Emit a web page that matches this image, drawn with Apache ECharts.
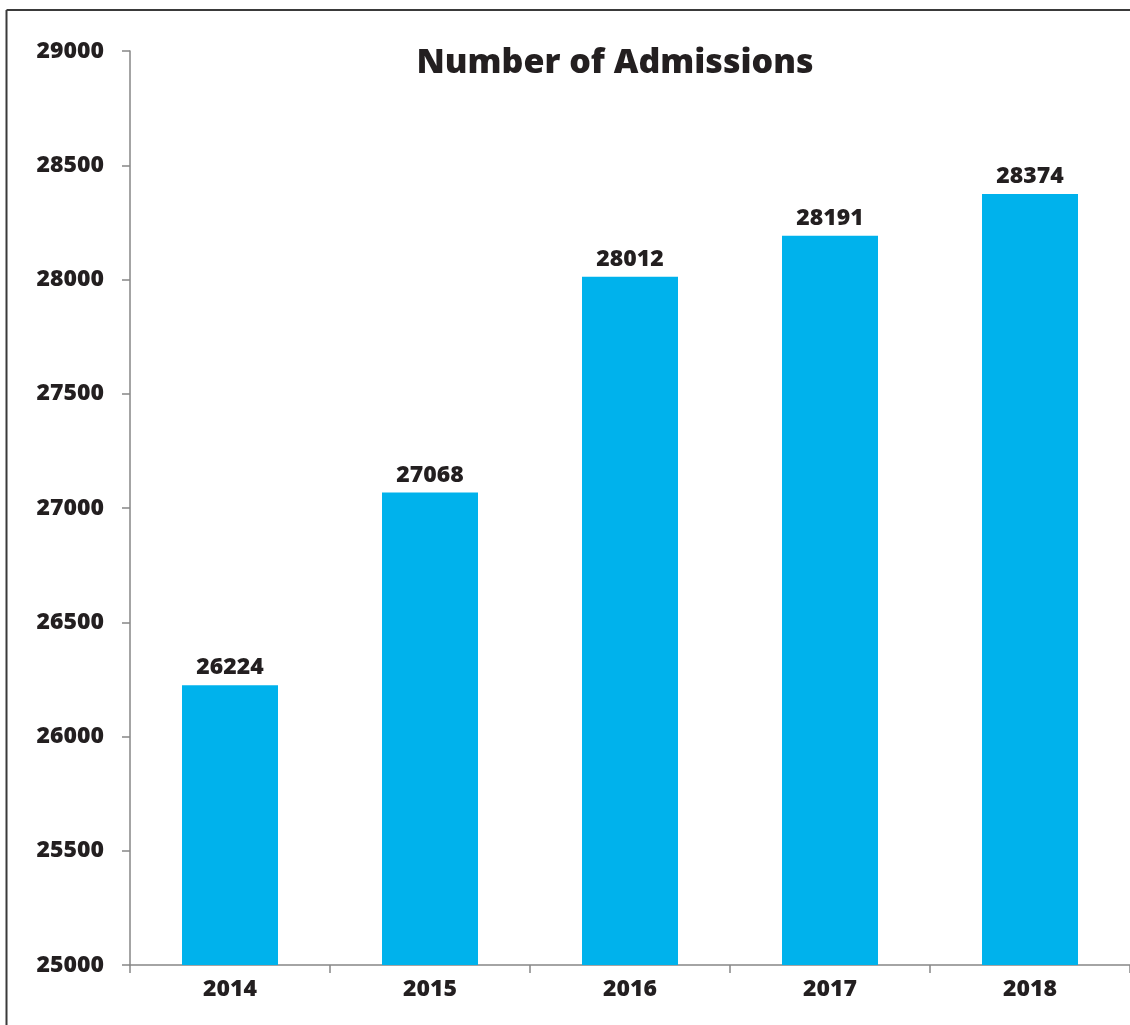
<!DOCTYPE html>
<html>
<head>
<meta charset="utf-8">
<script src="https://cdn.jsdelivr.net/npm/echarts@6/dist/echarts.min.js"></script>
<style>
  html, body { margin: 0; padding: 0; background: #ffffff; }
  #chart { width: 1130px; height: 1025px; }
</style>
</head>
<body>
<div id="chart"></div>
<script>
// Admissions per year
const years = ['2014', '2015', '2016', '2017', '2018'];
const admissions = [26224, 27068, 28012, 28191, 28374];
const yTicks = { min: 25000, max: 29000, step: 500 };

const FONT = '"Open Sans", "Liberation Sans", sans-serif';
const TEXT = '#231f20';
const AXIS = '#868686';

const chart = echarts.init(document.getElementById('chart'), null, { renderer: 'canvas' });

chart.setOption({
  backgroundColor: '#ffffff',
  animation: false,
  title: {
    text: 'Number of Admissions',
    left: 610,
    top: 41,
    textAlign: 'center',
    textStyle: { fontFamily: FONT, fontWeight: 800, fontSize: 34, color: TEXT }
  },
  graphic: [
    // outer frame (top and left edges)
    { type: 'line', shape: { x1: 6.5, y1: 10, x2: 1130, y2: 10 }, style: { stroke: '#3a3a3a', lineWidth: 2 } },
    { type: 'line', shape: { x1: 6.5, y1: 10, x2: 6.5, y2: 1025 }, style: { stroke: '#3a3a3a', lineWidth: 2 } }
  ],
  grid: { left: 130, top: 51, width: 1001, height: 914, containLabel: false },
  xAxis: {
    type: 'category',
    data: years,
    boundaryGap: true,
    axisLine: { show: true, lineStyle: { color: AXIS, width: 1.5 } },
    axisTick: { show: true, length: 8, alignWithLabel: false, lineStyle: { color: AXIS, width: 1.5 } },
    axisLabel: { margin: 13, fontFamily: FONT, fontWeight: 800, fontSize: 23, color: TEXT }
  },
  yAxis: {
    type: 'value',
    min: yTicks.min,
    max: yTicks.max,
    interval: yTicks.step,
    splitLine: { show: false },
    axisLine: { show: true, lineStyle: { color: AXIS, width: 1.5 } },
    axisTick: { show: true, length: 8, lineStyle: { color: AXIS, width: 1.5 } },
    axisLabel: {
      margin: 26,
      formatter: (v) => String(v),
      fontFamily: FONT, fontWeight: 800, fontSize: 23, color: TEXT
    }
  },
  series: [{
    type: 'bar',
    data: admissions,
    barWidth: 96,
    itemStyle: { color: '#00b2ec' },
    label: {
      show: true,
      position: 'top',
      distance: 6,
      fontFamily: FONT,
      fontWeight: 800,
      fontSize: 23,
      color: TEXT
    }
  }]
});
</script>
</body>
</html>
